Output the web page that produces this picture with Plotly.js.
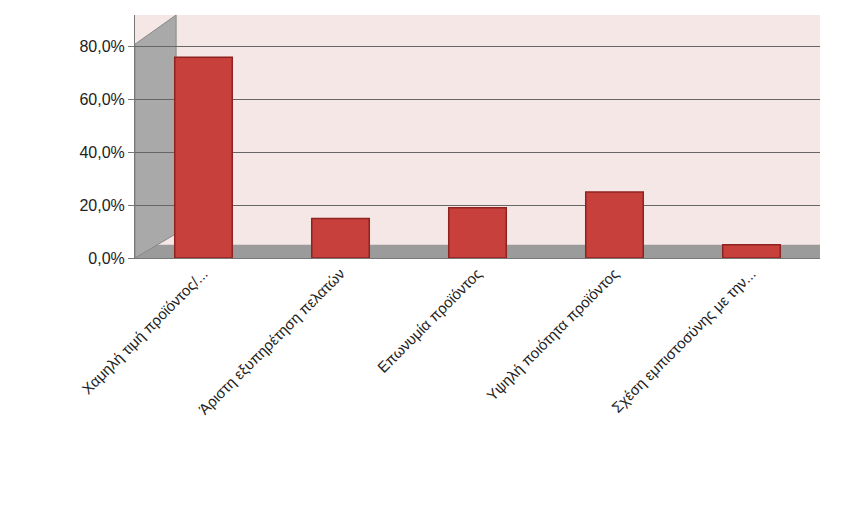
<!DOCTYPE html>
<html>
<head>
<meta charset="utf-8">
<script src="https://cdn.plot.ly/plotly-3.0.1.min.js"></script>
<style>body{margin:0;background:#fff}#chart{width:860px;height:526px}</style>
</head>
<body>
<div id="chart"></div>
<script>
// categories and shares
var categories = ["Χαμηλή τιμή προϊόντος/...", "Άριστη εξυπηρέτηση πελατών", "Επωνυμία προϊόντος", "Υψηλή ποιότητα προϊόντος", "Σχέση εμπιστοσύνης με την..."];
var shares = [0.76, 0.15, 0.19, 0.25, 0.05];
var yTicks = [0, 0.2, 0.4, 0.6, 0.8];

var trace = {
  x: categories,
  y: shares,
  type: 'bar',
  width: 0.42,
  marker: {color: '#c8403b', line: {color: '#8e2320', width: 1.5}},
  hoverinfo: 'x+y'
};

var layout = {
  width: 860, height: 526,
  margin: {l: 135, r: 40, t: 15, b: 268},
  separators: ',.',
  paper_bgcolor: '#ffffff',
  plot_bgcolor: '#f6e7e7',
  showlegend: false,
  font: {family: 'Liberation Sans, Arial, sans-serif', size: 15, color: '#222'},
  xaxis: {
    tickangle: -45, showgrid: false, showline: true, linecolor: '#777',
    tickfont: {size: 15, color: '#222'}
  },
  yaxis: {
    range: [0, 0.92], tickvals: yTicks, tickformat: '.1%',
    showgrid: true, gridcolor: '#666', gridwidth: 1,
    ticks: 'outside', ticklen: 6, tickcolor: '#777',
    showline: true, linecolor: '#777', zeroline: false,
    tickfont: {size: 16, color: '#222'}
  },
  shapes: [
    // grey floor band
    {type: 'rect', xref: 'paper', yref: 'y', x0: 0, x1: 1, y0: 0, y1: 0.05,
     fillcolor: '#9b9b9b', line: {width: 0}, layer: 'below'},
    // grey left wall
    {type: 'path', xref: 'paper', yref: 'paper',
     path: 'M 0 0 L 0.06 0.1 L 0.06 1 L 0 0.88 Z',
     fillcolor: '#a9a9a9', line: {color: '#888', width: 1}, layer: 'below'}
  ]
};

Plotly.newPlot('chart', [trace], layout, {displayModeBar: false});
</script>
</body>
</html>
